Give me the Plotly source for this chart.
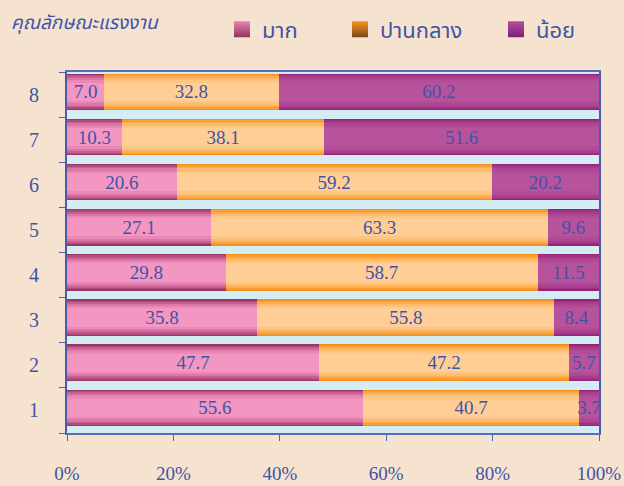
import plotly.graph_objects as go

categories = ["1", "2", "3", "4", "5", "6", "7", "8"]
much = [55.6, 47.7, 35.8, 29.8, 27.1, 20.6, 10.3, 7.0]
moderate = [40.7, 47.2, 55.8, 58.7, 63.3, 59.2, 38.1, 32.8]
little = [3.7, 5.7, 8.4, 11.5, 9.6, 20.2, 51.6, 60.2]
series_names = ["มาก", "ปานกลาง", "น้อย"]
x_ticks = [0, 20, 40, 60, 80, 100]
x_tick_labels = ["0%", "20%", "40%", "60%", "80%", "100%"]
title_text = "คุณลักษณะแรงงาน"

# gradient layers (outer edge -> centre) per series
layer_colors = [
    ["#9B3567", "#B14A7D", "#C85F93", "#DC76A8", "#EA89B7", "#F396C2"],
    ["#F5901A", "#F89E33", "#FAAD50", "#FCBB6D", "#FEC683", "#FFCD96"],
    ["#952377", "#A03183", "#A93D8D", "#AF4693", "#B34D98", "#B7539C"],
]
bar_width = 0.81
layer_scale = [1.0, 0.93, 0.85, 0.75, 0.63, 0.5]
bar_shift = 0.058
legend_top = ["#E884B3", "#F7961E", "#B6519B"]
legend_bottom = ["#8E3562", "#7A4619", "#7A1E76"]

txt_color = "#4054A6"
serif = "Liberation Serif, Times New Roman, serif"
thai = "Noto Sans Thai, Noto Sans, sans-serif"

series_values = [much, moderate, little]
fig = go.Figure()
n_layers = len(layer_scale)
for li, s in enumerate(layer_scale):
    ax = "y" if li == 0 else f"y{li + 1}"
    w = bar_width * s
    top = li == n_layers - 1
    for si, (name, vals) in enumerate(zip(series_names, series_values)):
        fig.add_trace(go.Bar(
            y=categories, x=vals, name=name, orientation="h", yaxis=ax,
            width=w, offset=-w / 2 + bar_shift,
            marker=dict(color=layer_colors[si][li], line=dict(width=0)),
            showlegend=False,
            text=[f"{v:.1f}" for v in vals] if top else None,
            texttemplate="%{text}" if top else None,
            textposition="inside" if top else "none",
            insidetextanchor="middle",
            constraintext="none", textangle=0, cliponaxis=False,
            textfont=dict(family=serif, size=19, color=txt_color),
            hoverinfo="skip",
        ))

# legend-only entries (square markers with vertical gradient)
legend_ids = ["legend", "legend2", "legend3"]
for si, name in enumerate(series_names):
    fig.add_trace(go.Scatter(
        x=[None], y=[None], mode="markers", name=name, legend=legend_ids[si],
        marker=dict(symbol="square", size=20, color=legend_top[si],
                    gradient=dict(type="vertical", color=legend_bottom[si]),
                    line=dict(width=0)),
        showlegend=True, hoverinfo="skip",
    ))

plot_l, plot_w = 67, 532
legend_left_px = [222, 340, 496]
legend_common = dict(orientation="h", xanchor="left", y=1.118, yanchor="middle",
                     yref="paper", itemsizing="trace",
                     font=dict(family=thai, size=22, color=txt_color),
                     bgcolor="rgba(0,0,0,0)")
fig.update_layout(
    width=624, height=486,
    barmode="stack", barnorm="percent",
    paper_bgcolor="#F5E3CF", plot_bgcolor="#D4ECF4",
    margin=dict(l=plot_l, r=624 - plot_l - plot_w, t=72, b=53, autoexpand=False),
    showlegend=True,
    legend=dict(x=(legend_left_px[0] - plot_l) / plot_w, **legend_common),
    legend2=dict(x=(legend_left_px[1] - plot_l) / plot_w, **legend_common),
    legend3=dict(x=(legend_left_px[2] - plot_l) / plot_w, **legend_common),
)
fig.add_annotation(text="<i>" + title_text + "</i>", xref="paper", yref="paper",
                   x=(9 - plot_l) / plot_w, y=1.133, xanchor="left", yanchor="middle",
                   showarrow=False,
                   font=dict(family=thai, size=19, color=txt_color))

fig.update_xaxes(range=[0, 100], tickvals=x_ticks, ticktext=x_tick_labels,
                 ticks="outside", ticklen=6, tickcolor="#4F63B0",
                 showgrid=False, zeroline=False,
                 showline=True, linecolor="#5A6DB8", linewidth=1.5, mirror=True,
                 ticklabelstandoff=16,
                 tickfont=dict(family=serif, size=19, color=txt_color))
yaxis_common = dict(type="category", categoryorder="array", categoryarray=categories,
                    range=[-0.5, 7.5])
fig.update_layout(
    yaxis=dict(**yaxis_common,
               ticks="outside", ticklen=6, tickcolor="#4F63B0", tickson="boundaries",
               showgrid=False, zeroline=False,
               showline=True, linecolor="#4A5CA8", linewidth=2, mirror=True,
               ticklabelstandoff=22,
               tickfont=dict(family=serif, size=20, color=txt_color)),
)
for li in range(1, n_layers):
    fig.update_layout({f"yaxis{li + 1}": dict(**yaxis_common, overlaying="y", visible=False)})

fig.write_html("out.html", config={"displayModeBar": False},
               post_script="document.body.style.margin='0';")
